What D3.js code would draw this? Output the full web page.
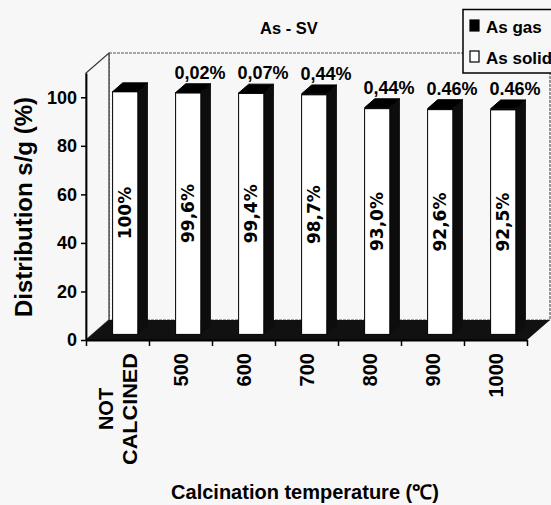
<!DOCTYPE html>
<html>
<head>
<meta charset="utf-8">
<script src="https://cdn.jsdelivr.net/npm/d3@7"></script>
<style>
  html, body { margin: 0; padding: 0; background: #f7f7f7; }
  svg { display: block; }
  text { font-family: "Liberation Sans", Arial, sans-serif; font-weight: bold; fill: #000; }
</style>
</head>
<body>
<svg id="chart" width="551" height="505"></svg>
<script>
// ---- data ----
const categories = ["NOT CALCINED", "500", "600", "700", "800", "900", "1000"];
const solidValues = [100, 99.6, 99.4, 98.7, 93.0, 92.6, 92.5];
const gasValues = [0, 0.02, 0.07, 0.44, 0.44, 0.46, 0.46];
const solidLabels = ["100%", "99,6%", "99,4%", "98,7%", "93,0%", "92,6%", "92,5%"];
const gasLabels = ["", "0,02%", "0,07%", "0,44%", "0,44%", "0.46%", "0.46%"];
const yTicks = [0, 20, 40, 60, 80, 100];
const seriesNames = ["As gas", "As solid"];

// ---- layout ----
const svg = d3.select("#chart");
const X0 = 86, X1 = 527;
const D = { x: 23, y: -20 };           // 3D depth vector
const f1 = 0.28, f2 = 0.72;            // bar front/back depth fractions

const x = d3.scaleBand().domain(categories).range([X0, X1]).padding(0);
const xl = d3.scaleLinear().domain([0, categories.length]).range([X0, X1]);
const y = d3.scaleLinear().domain([0, 110]).range([340, 73]);
const bw = x.bandwidth();

// back wall
const wall = svg.append("g");
wall.append("rect")
  .attr("x", X0 + D.x).attr("y", y(110) + D.y)
  .attr("width", X1 - X0).attr("height", y(0) - y(110))
  .attr("fill", "#f7f7f7").attr("stroke", "#555").attr("stroke-width", 1.2)
  .attr("stroke-dasharray", "3,1");
// left side wall
wall.append("polygon")
  .attr("points", [[X0, y(0)], [X0, y(110)], [X0 + D.x, y(110) + D.y], [X0 + D.x, y(0) + D.y]].join(" "))
  .attr("fill", "#f7f7f7").attr("stroke", "#333").attr("stroke-width", 1.2);

// floor
svg.append("polygon")
  .attr("points", [[X0, y(0)], [X1, y(0)], [X1 + D.x, y(0) + D.y], [X0 + D.x, y(0) + D.y]].join(" "))
  .attr("fill", "#111");

// bars
const bars = svg.append("g");
categories.forEach((c, i) => {
  const bx = x(c) + bw * 0.32, w = bw * 0.4;
  const o1 = { x: D.x * f1, y: D.y * f1 }, o2 = { x: D.x * f2, y: D.y * f2 };
  const total = solidValues[i] + gasValues[i];
  const yt = y(total), ys = y(solidValues[i]), y0 = y(0);
  // side face
  bars.append("polygon")
    .attr("points", [[bx + w + o1.x, yt + o1.y], [bx + w + o2.x, yt + o2.y],
                     [bx + w + o2.x, y0 + o2.y], [bx + w + o1.x, y0 + o1.y]].join(" "))
    .attr("fill", "#0d0d0d");
  // solid front face
  bars.append("rect")
    .attr("x", bx + o1.x).attr("y", ys + o1.y)
    .attr("width", w).attr("height", y0 - ys)
    .attr("fill", "#fff").attr("stroke", "#000").attr("stroke-width", 1);
  // gas front face
  if (gasValues[i] > 0) {
    bars.append("rect")
      .attr("x", bx + o1.x).attr("y", yt + o1.y)
      .attr("width", w).attr("height", Math.max(0.8, ys - yt))
      .attr("fill", "#000");
  }
  // top face
  bars.append("polygon")
    .attr("points", [[bx + o1.x, yt + o1.y], [bx + w + o1.x, yt + o1.y],
                     [bx + w + o2.x, yt + o2.y], [bx + o2.x, yt + o2.y]].join(" "))
    .attr("fill", "#000").attr("stroke", "#000").attr("stroke-width", 1);
  // solid value label (rotated)
  const cx = bx + o1.x + w / 2, cy = (ys + y0) / 2 + o1.y;
  bars.append("text")
    .attr("transform", `translate(${cx},${cy}) rotate(-90)`)
    .attr("text-anchor", "middle").attr("dy", "0.36em")
    .style("font-family", "'DejaVu Sans', sans-serif")
    .style("font-size", "17px")
    .text(solidLabels[i]);
  // gas value label
  if (gasLabels[i]) {
    bars.append("text")
      .attr("x", x(c) + bw * 0.81).attr("y", yt + o2.y - 5)
      .attr("text-anchor", "middle")
      .style("font-size", "18px")
      .text(gasLabels[i]);
  }
});

// y axis
const yAxis = svg.append("g").attr("transform", `translate(${X0},0)`)
  .call(d3.axisLeft(y).tickValues(yTicks).tickSize(5).tickSizeOuter(0).tickPadding(4));
yAxis.select(".domain").attr("stroke", "#000").attr("stroke-width", 1.8);
yAxis.selectAll(".tick line").attr("stroke", "#000").attr("stroke-width", 1.5);
yAxis.selectAll(".tick text").style("font-family", "'Liberation Sans', Arial, sans-serif")
  .style("font-weight", "bold").style("font-size", "18px").attr("fill", "#000");

// x axis (lines and ticks at category boundaries)
const xAxis = svg.append("g").attr("transform", `translate(0,${y(0)})`)
  .call(d3.axisBottom(xl).tickValues(d3.range(categories.length + 1)).tickFormat("").tickSize(6).tickSizeOuter(0));
xAxis.select(".domain").attr("stroke", "#000").attr("stroke-width", 1.8);
xAxis.selectAll(".tick line").attr("stroke", "#000").attr("stroke-width", 1.5);

// x category labels
const xlab = svg.append("g");
categories.forEach((c) => {
  const cx = x(c) + bw / 2;
  const words = c.split(" ");
  if (words.length === 1) {
    xlab.append("text")
      .attr("transform", `translate(${cx},353) rotate(-90)`)
      .attr("text-anchor", "end").attr("dy", "0.36em")
      .style("font-size", "20px").text(c);
  } else {
    const lh = 24;
    const longest = 112;
    words.forEach((wd, k) => {
      const t = xlab.append("text")
        .attr("transform", `translate(${cx + (k - (words.length - 1) / 2) * lh},${353 + longest / 2}) rotate(-90)`)
        .attr("text-anchor", "middle").attr("dy", "0.36em")
        .style("font-size", "20px").text(wd);
      if (wd.length > 4) t.attr("textLength", longest).attr("lengthAdjust", "spacingAndGlyphs");
    });
  }
});

// title
svg.append("text").attr("x", 289).attr("y", 34).attr("text-anchor", "middle")
  .style("font-size", "16.5px").text("As - SV");

// axis titles
svg.append("text").attr("transform", "translate(32,207) rotate(-90)")
  .attr("text-anchor", "middle").style("font-size", "24px").text("Distribution s/g (%)");
svg.append("text").attr("x", 305).attr("y", 499).attr("text-anchor", "middle")
  .style("font-size", "20px").text("Calcination temperature (\u2103)");

// legend
const lg = svg.append("g");
lg.append("rect").attr("x", 463).attr("y", 9.5).attr("width", 100).attr("height", 63.5)
  .attr("fill", "#f7f7f7").attr("stroke", "#000").attr("stroke-width", 1.5);
seriesNames.forEach((s, k) => {
  const yy = 20 + k * 31;
  lg.append("rect").attr("x", 470).attr("y", yy).attr("width", 9).attr("height", 11)
    .attr("fill", k === 0 ? "#000" : "#fff").attr("stroke", "#000").attr("stroke-width", 1.2);
  lg.append("text").attr("x", 486).attr("y", yy + 13).style("font-size", "17px").text(s);
});
</script>
</body>
</html>
